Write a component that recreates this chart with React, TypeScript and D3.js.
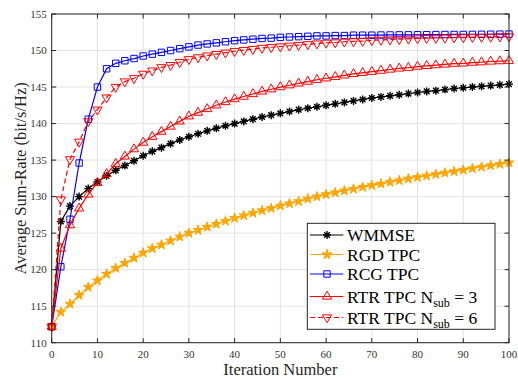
import React from 'react';
import * as d3 from 'd3';

const iterations = d3.range(0, 101, 2);
const xTicks = [0, 10, 20, 30, 40, 50, 60, 70, 80, 90, 100];
const yTicks = [110, 115, 120, 125, 130, 135, 140, 145, 150, 155];

const wmmse = [
  112.2, 126.6, 128.7, 130.0, 131.1, 132.0,
  132.85, 133.6, 134.25, 134.9, 135.6,
  136.2, 136.7, 137.25, 137.75, 138.2,
  138.6, 139.0, 139.35, 139.7, 140.0,
  140.3, 140.6, 140.9, 141.15, 141.4,
  141.65, 141.9, 142.1, 142.3, 142.5,
  142.7, 142.9, 143.1, 143.3, 143.5,
  143.65, 143.8, 143.95, 144.1, 144.25,
  144.4, 144.5, 144.65, 144.8, 144.9,
  145.0, 145.1, 145.2, 145.3, 145.4,
];
const rgd = [
  112.2, 114.2, 115.3, 116.5, 117.6, 118.5,
  119.4, 120.2, 120.9, 121.6, 122.3,
  122.9, 123.4, 123.95, 124.5, 125.0,
  125.4, 125.85, 126.25, 126.65, 127.05,
  127.4, 127.75, 128.1, 128.4, 128.75,
  129.05, 129.35, 129.7, 130.0, 130.3,
  130.55, 130.8, 131.05, 131.3, 131.55,
  131.75, 132.0, 132.2, 132.45, 132.65,
  132.85, 133.05, 133.25, 133.45, 133.65,
  133.85, 134.05, 134.25, 134.45, 134.65,
];
const rcg = [
  112.2, 120.4, 126.9, 134.6, 140.6, 145.0,
  147.5, 148.25, 148.6, 148.9, 149.25,
  149.5, 149.75, 150.0, 150.25, 150.5,
  150.75, 150.9, 151.05, 151.2, 151.35,
  151.45, 151.55, 151.65, 151.7, 151.8,
  151.85, 151.9, 151.95, 152.0, 152.0,
  152.05, 152.05, 152.1, 152.1, 152.1,
  152.12, 152.13, 152.14, 152.15, 152.16,
  152.17, 152.18, 152.19, 152.2, 152.2,
  152.21, 152.22, 152.23, 152.24, 152.25,
];
const rtr3 = [
  112.2, 122.9, 126.1, 128.4, 130.3, 131.9,
  133.1, 134.5, 135.5, 136.5, 137.4,
  138.2, 138.9, 139.6, 140.3, 141.0,
  141.5, 142.0, 142.5, 142.95, 143.35,
  143.7, 144.05, 144.4, 144.7, 145.0,
  145.25, 145.5, 145.75, 146.0, 146.2,
  146.4, 146.6, 146.8, 146.95, 147.1,
  147.25, 147.4, 147.55, 147.65, 147.8,
  147.9, 148.0, 148.1, 148.2, 148.25,
  148.35, 148.4, 148.5, 148.55, 148.6,
];
const rtr6 = [
  112.2, 129.6, 135.1, 137.5, 140.3, 141.9,
  143.55, 145.0, 145.75, 146.2, 146.8,
  147.25, 147.7, 148.0, 148.4, 148.8,
  149.05, 149.3, 149.5, 149.7, 149.9,
  150.05, 150.2, 150.35, 150.45, 150.55,
  150.65, 150.75, 150.85, 150.95, 151.05,
  151.1, 151.2, 151.25, 151.3, 151.4,
  151.45, 151.5, 151.55, 151.6, 151.65,
  151.7, 151.72, 151.75, 151.78, 151.8,
  151.83, 151.85, 151.87, 151.9, 151.92,
];

type MarkerKind = 'asterisk' | 'star' | 'square' | 'up' | 'down';

const series: { name: string; sub?: string; tail?: string; values: number[]; color: string; marker: MarkerKind; dash?: string; fill?: string }[] = [
  { name: 'WMMSE', values: wmmse, color: '#000000', marker: 'asterisk' },
  { name: 'RGD TPC', values: rgd, color: '#FFA500', marker: 'star', fill: '#FFA500' },
  { name: 'RCG TPC', values: rcg, color: '#0000FF', marker: 'square' },
  { name: 'RTR TPC N', sub: 'sub', tail: ' = 3', values: rtr3, color: '#FF0000', marker: 'up' },
  { name: 'RTR TPC N', sub: 'sub', tail: ' = 6', values: rtr6, color: '#FF0000', marker: 'down', dash: '5,3' },
];

function markerPath(kind: MarkerKind): string {
  if (kind === 'asterisk') {
    const r = 4;
    const d = r * Math.SQRT1_2;
    return `M${-r},0L${r},0M0,${-r}L0,${r}M${-d},${-d}L${d},${d}M${-d},${d}L${d},${-d}`;
  }
  if (kind === 'star') {
    const R = 5.2, r = R * 0.382;
    const pts: string[] = [];
    for (let i = 0; i < 10; i++) {
      const a = -Math.PI / 2 + (i * Math.PI) / 5;
      const rr = i % 2 === 0 ? R : r;
      pts.push(`${(rr * Math.cos(a)).toFixed(2)},${(rr * Math.sin(a)).toFixed(2)}`);
    }
    return 'M' + pts.join('L') + 'Z';
  }
  if (kind === 'square') {
    const h = 3.2;
    return `M${-h},${-h}L${h},${-h}L${h},${h}L${-h},${h}Z`;
  }
  const r = 5.3;
  const s = kind === 'up' ? 1 : -1;
  return `M0,${-r * s}L${r * 0.866},${(r / 2) * s}L${-r * 0.866},${(r / 2) * s}Z`;
}

const W = 518, H = 377;
const left = 51.7, right = 509, top = 14, bottom = 342.7;
const FONT = "'Liberation Serif', 'Times New Roman', serif";

export default function App() {
  const x = d3.scaleLinear().domain([0, 100]).range([left, right]);
  const y = d3.scaleLinear().domain([110, 155]).range([bottom, top]);
  const line = d3.line<number>().x((_, i) => x(iterations[i])).y((v) => y(v));
  const axisColor = '#262626';
  const tickLen = 4.5;
  const ts = { fontFamily: FONT };

  const legendX0 = 307.3, legendX1 = 495, legendY0 = 223.3, legendY1 = 329.3;
  const legendRows = [235, 254.5, 274, 296.5, 317.5];

  return (
    <svg width={W} height={H} style={{ position: 'absolute', left: 0, top: 0, background: '#fff' }}>
      <rect x={0} y={0} width={W} height={H} fill="#fff" />
      {xTicks.map((t) => (
        <line key={'gx' + t} x1={x(t)} x2={x(t)} y1={top} y2={bottom} stroke="#e3e3e3" strokeWidth={1} />
      ))}
      {yTicks.map((t) => (
        <line key={'gy' + t} x1={left} x2={right} y1={y(t)} y2={y(t)} stroke="#e3e3e3" strokeWidth={1} />
      ))}
      {series.map((s, si) => (
        <g key={'s' + si}>
          <path d={line(s.values) || ''} fill="none" stroke={s.color} strokeWidth={1.2} strokeDasharray={s.dash} />
          {s.values.map((v, i) => (
            <path
              key={i}
              d={markerPath(s.marker)}
              transform={`translate(${x(iterations[i])},${y(v)})`}
              fill={s.fill || 'none'}
              stroke={s.color}
              strokeWidth={s.marker === 'asterisk' ? 1.4 : 1}
            />
          ))}
        </g>
      ))}
      <rect x={left} y={top} width={right - left} height={bottom - top} fill="none" stroke={axisColor} strokeWidth={1} />
      {xTicks.map((t) => (
        <g key={'tx' + t}>
          <line x1={x(t)} x2={x(t)} y1={bottom} y2={bottom - tickLen} stroke={axisColor} />
          <line x1={x(t)} x2={x(t)} y1={top} y2={top + tickLen} stroke={axisColor} />
          <text x={x(t)} y={358} textAnchor="middle" fontSize={11} fill="#333" style={ts}>
            {t}
          </text>
        </g>
      ))}
      {yTicks.map((t) => (
        <g key={'ty' + t}>
          <line x1={left} x2={left + tickLen} y1={y(t)} y2={y(t)} stroke={axisColor} />
          <line x1={right} x2={right - tickLen} y1={y(t)} y2={y(t)} stroke={axisColor} />
          <text x={46.7} y={y(t) + 3.8} textAnchor="end" fontSize={11} fill="#333" style={ts}>
            {t}
          </text>
        </g>
      ))}
      <text x={(left + right) / 2} y={374.5} textAnchor="middle" fontSize={16.5} fill="#262626" style={ts}>
        Iteration Number
      </text>
      <text
        transform={`translate(25.5,${(top + bottom) / 2}) rotate(-90)`}
        textAnchor="middle"
        fontSize={16.5}
        fill="#262626"
        style={ts}
      >
        Average Sum-Rate (bit/s/Hz)
      </text>
      <rect x={legendX0} y={legendY0} width={legendX1 - legendX0} height={legendY1 - legendY0} fill="#fff" stroke={axisColor} strokeWidth={1} />
      {series.map((s, si) => {
        const yy = legendRows[si];
        return (
          <g key={'l' + si}>
            <line x1={310} x2={343.3} y1={yy} y2={yy} stroke={s.color} strokeWidth={1.2} strokeDasharray={s.dash} />
            <path
              d={markerPath(s.marker)}
              transform={`translate(327,${yy})`}
              fill={s.fill || 'none'}
              stroke={s.color}
              strokeWidth={s.marker === 'asterisk' ? 1.4 : 1}
            />
            <text x={347} y={yy + 6} fontSize={17.5} fill="#000" style={ts}>
              {s.name}
              {s.sub && (
                <tspan fontSize={12} dy={4}>
                  {s.sub}
                </tspan>
              )}
              {s.tail && <tspan dy={-4}>{s.tail}</tspan>}
            </text>
          </g>
        );
      })}
    </svg>
  );
}
